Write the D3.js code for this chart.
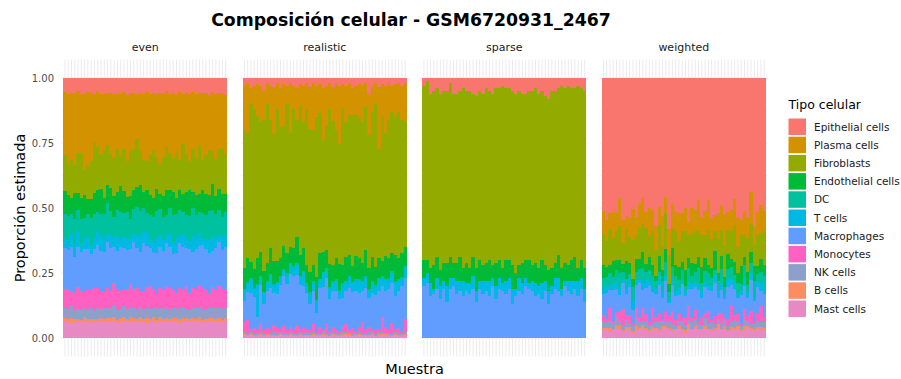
<!DOCTYPE html>
<html>
<head>
<meta charset="utf-8">
<script src="https://cdn.jsdelivr.net/npm/d3@7"></script>
<style>
  html, body { margin: 0; padding: 0; background: #fff; }
  svg { display: block; }
</style>
</head>
<body>
<script>
// Cell types in legend order (top of each stacked bar first)
const cellTypes = ["Epithelial cells", "Plasma cells", "Fibroblasts", "Endothelial cells", "DC",
  "T cells", "Macrophages", "Monocytes", "NK cells", "B cells", "Mast cells"];
const cellColors = ["#F8766D", "#D39200", "#93AA00", "#00BA38", "#00C19F",
  "#00B9E3", "#619CFF", "#FF61C3", "#8DA0CB", "#FC8D62", "#E78AC3"];
const scenarios = ["even", "realistic", "sparse", "weighted"];
const yTicks = [0, 0.25, 0.5, 0.75, 1];
const yTickLabels = ["0.00", "0.25", "0.50", "0.75", "1.00"];

// Estimated proportions (%) per sample; one row per cell type, same order as cellTypes.
// An empty row means the cell type is absent in that scenario.
const evenData = [
  [5.5,6,5.8,6.2,5.4,6,6.5,5.6,5.9,6.1, 5.3,6.4,5.8,6,5.5,6.3,5.7,6.1,5.4,6.6, 5.9,5.6,6.2,5.8,6,5.5,6.3,5.7,6.4,5.9, 6,5.2,6.1,5.8,6.5,5.6,6,5.9,6.3,5.4, 6.2,5.7,6,5.8,6.4,5.5,6.1,5.9,6.2,6.6],
  [24,27,26,28,25,23,30,29,26,19, 22,24,21,20,23,25,22,24,21,26, 23,20,18,22,25,27,24,21,26,28, 24,22,23,25,21,27,19,24,26,22, 25,20,27,24,21,23,25,22,21,22],
  [14,12,15,11,16,17,10,13,15,20, 17,14,18,16,13,15,17,12,16,14, 18,15,19,13,12,11,16,18,13,12, 15,17,14,13,18,12,19,15,11,17, 14,18,12,15,17,13,14,16,18,15],
  [9,8,6,10,7,8,9,6,7,8, 9,10,6,7,9,8,7,10,8,6, 9,7,8,10,6,9,8,7,9,6, 8,10,7,9,6,8,7,9,10,6, 8,7,9,8,6,10,7,8,9,7],
  [9,10,8,11,9,10,8,9,11,10, 8,9,10,12,9,8,10,11,9,10, 8,9,11,10,9,8,10,9,11,10, 9,8,10,11,9,10,8,9,10,11, 9,8,10,9,11,10,9,10,8,9],
  [4,3,5,4,6,3,4,5,3,4, 5,6,4,3,5,4,6,3,4,5, 4,3,5,6,4,5,3,4,6,5, 4,3,5,4,6,3,5,4,3,6, 4,5,3,4,5,6,4,3,5,4],
  [16,15,17,14,16,15,17,16,14,15, 17,16,15,18,16,14,15,17,16,15, 14,17,16,15,18,16,15,14,17,16, 15,17,16,14,15,18,16,15,17,14, 16,15,17,16,15,14,16,17,15,16],
  [7,8,6,7,9,7,6,8,7,9, 8,7,6,8,7,9,8,7,6,8, 9,7,8,6,7,8,9,7,6,8, 7,9,8,7,6,8,7,9,6,8, 7,8,9,7,6,8,7,9,8,7],
  [4,3.5,4.5,3,4,3.8,4.2,3.5,4,3.2, 4.4,3.6,4,3.8,3.4,4.2,3.9,3.5,4.1,3.7, 4.3,3.6,4,3.8,3.5,4.2,3.9,3.4,4.4,3.7, 4,3.6,4.1,3.8,3.5,4.3,3.9,3.6,4,3.7, 4.2,3.5,4,3.8,3.6,4.1,3.9,3.7,4,3.8],
  [1.5,1,1.8,1.2,1.4,1,1.6,1.3,1.1,1.5, 1.2,1.7,1,1.4,1.3,1.6,1.1,1.5,1.2,1.4, 1.8,1.1,1.3,1.5,1,1.6,1.2,1.4,1.3,1.7, 1.1,1.5,1.2,1.4,1,1.6,1.3,1.5,1.1,1.4, 1.2,1.7,1,1.5,1.3,1.4,1.2,1.6,1.1,1.4],
  [6.2,6.5,6,6.4,6.3,6.1,6.6,6.2,6.4,6, 6.3,6.5,6.1,6.4,6.2,6.6,6,6.3,6.5,6.2, 6.4,6.1,6.3,6.5,6.2,6,6.4,6.3,6.1,6.5, 6.2,6.4,6,6.3,6.6,6.1,6.4,6.2,6.3,6.5, 6.1,6.4,6.2,6,6.3,6.5,6.2,6.4,6.1,6.3]
];

const realisticData = [
  [3,2,4,3,2.5,3,5,2,3,3.5, 2,4,2.5,3,2,3,4,2.5,3,2, 3.5,2,3,2.5,4,3,2,3.5,2,3, 2.5,3,2,4,3,2.5,3,2,6,3, 2,3.5,2.5,3,2,3,2.5,2,3,2],
  [17,19,6,9,12,14,11,8,13,18, 10,15,16,7,19,9,12,8,14,10, 16,18,12,11,20,15,10,13,18,22, 9,14,12,10,11,13,14,9,16,10, 8,24,12,18,14,10,12,11,13,15],
  [53,48,61,61,55,50,58,61,49,49, 58,50,46,57,44,53,45,58,48,60, 55,52,61,54,43,48,59,56,49,46, 61,52,54,58,54,54,54,55,51,56, 62,42,56,47,53,54,54,56,51,48],
  [8,9,6,7,10,9,8,7,10,9, 8,7,9,8,6,7,10,8,9,7, 8,6,9,10,8,7,9,6,8,10, 7,9,8,6,9,8,7,10,8,9, 7,8,6,9,8,7,10,8,9,7],
  [0.6,0.8,0.7,0.5,0.9,0.7,0.6,0.8,0.7,0.5, 0.8,0.6,0.7,0.9,0.5,0.7,0.8,0.6,0.7,0.9, 0.5,0.7,0.8,0.6,0.7,0.9,0.6,0.8,0.7,0.5, 0.7,0.9,0.6,0.8,0.7,0.5,0.8,0.6,0.7,0.9, 0.6,0.8,0.7,0.5,0.9,0.7,0.6,0.8,0.7,0.6],
  [4,3,5,3,12,3,4,3,5,3, 4,3,2,3,4,3,4,3,5,3, 4,3,4,3,5,3,4,3,4,3, 5,3,4,3,4,5,3,4,3,4, 3,4,3,4,3,4,5,4,3,4],
  [8,11,14,12,5,15,10,14,16,12, 13,17,19,18,20,21,19,17,16,14, 10,13,7,15,16,17,12,14,15,12, 11,13,16,14,15,13,12,16,11,14, 13,15,12,14,16,15,13,14,17,16],
  [4,5,1,2,1,3,1,2,1,3, 2,1,3,1,2,1,3,1,2,1, 1,3,1,2,1,4,1,2,1,1, 2,3,1,2,1,2,4,1,2,1, 2,1,6,2,1,4,1,2,1,5],
  [0.8,0.6,1,0.7,0.9,0.8,1,0.6,0.7,0.9, 0.7,0.9,0.8,0.6,1,0.7,0.8,0.9,0.6,1, 0.9,0.7,0.6,0.8,1,0.7,0.9,0.8,0.6,0.7, 1,0.8,0.7,0.9,0.6,0.8,1,0.7,0.9,0.8, 0.6,0.9,0.8,0.7,1,0.6,0.8,0.9,0.7,0.8],
  [0.4,0.3,0.5,0.4,0.3,0.5,0.4,0.6,0.3,0.4, 0.5,0.4,0.3,0.6,0.4,0.3,0.5,0.4,0.6,0.3, 0.4,0.5,0.3,0.4,0.6,0.4,0.3,0.5,0.4,0.3, 0.6,0.4,0.5,0.3,0.4,0.6,0.3,0.4,0.5,0.4, 0.3,0.5,0.4,0.6,0.3,0.4,0.5,0.3,0.4,0.5],
  [1,0.8,1,0.6,0.9,1,0.7,0.8,1,0.9, 0.6,1,0.8,0.7,1,0.9,0.8,1,0.6,0.9, 0.8,1,0.7,0.9,1,0.8,0.6,1,0.9,0.7, 0.8,1,0.9,0.6,0.8,1,0.7,0.9,0.8,1, 0.6,0.9,1,0.8,0.7,0.9,1,0.8,0.6,0.9]
];

const sparseData = [
  [3,1,6,5,4,6,5,5,2,6, 6,5,4,5,5,6,7,5,6,4, 5,6,4,4,3,4,4,5,6,5, 6,6,5,5,4,6,5,7,8,5, 5,4,3,4,3,4,4,3,4,5],
  [],
  [67,69,67,67,65,68,66,66,67,65, 65,64,69,66,68,63,66,65,66,67, 65,66,67,66,70,66,66,67,69,67, 65,64,65,67,67,67,65,65,66,68, 66,64,70,67,69,66,65,70,66,68],
  [7,5,6,9,8,6,7,9,8,6, 7,9,5,8,6,7,9,8,6,7, 8,5,9,7,6,8,7,9,6,5, 8,7,9,6,8,7,9,6,8,7, 6,9,8,7,6,8,9,5,7,8],
  [],
  [3,4,5,2,4,5,3,6,4,3, 5,4,6,3,4,5,4,3,5,4, 6,3,5,4,3,5,4,6,3,5, 4,3,2,4,5,3,6,4,5,3, 4,5,3,2,4,5,3,6,4,5],
  [20,21,16,17,19,15,19,14,19,20, 17,18,16,18,17,19,14,19,17,18, 16,20,15,19,18,17,19,13,16,18, 17,20,19,18,16,17,15,18,13,17, 19,18,16,20,18,17,19,16,19,14],
  [],
  [],
  [],
  []
];

const weightedData = [
  [51,54.5,52,51.4,52,46,54.5,53.2,53.3,50.4, 53.5,48.5,46,51.7,49.9,50.8,57,49.5,53,45.9, 58.2,48.5,51,51.8,51.9,50,55.2,50,50.7,47, 52.9,51.3,47,54,52.7,52,49.4,52.5,51.5,50.8, 46.7,54,54.4,51,53.5,44,57.2,51.4,48.8,51],
  [9,8,6,10,7,11,9,5,8,12, 7,9,10,6,11,8,9,7,12,6, 10,9,8,11,7,9,5,10,8,12, 7,9,11,8,6,10,9,12,7,8, 10,11,6,9,8,12,7,9,11,8],
  [12,10,14,9,11,13,8,12,10,15, 9,12,11,14,8,13,10,12,9,14, 11,8,13,10,12,15,9,11,13,10, 12,9,14,11,8,13,10,12,9,11, 14,10,12,9,13,11,8,12,10,13],
  [5,4,3,6,4,5,3,7,4,3, 5,4,6,3,5,4,2,6,4,5, 3,7,4,5,3,6,4,5,3,4, 6,5,3,4,7,3,5,4,6,3, 5,4,7,3,5,4,6,3,5,4],
  [4,3,5,3,4,6,3,4,2,5, 3,4,6,3,4,5,3,2,4,5, 3,4,6,3,4,2,5,3,4,6, 3,4,5,3,2,4,6,3,4,5, 3,4,2,5,3,4,6,3,4,5],
  [2,3,1.5,2,3,2.5,1.5,2,3,4, 2,1.5,2.5,3,2,1.5,2,3,2.5,2, 1.5,3,2,2.5,1.5,2,3,2,1.5,2.5, 3,2,1.5,2,3,2.5,2,1.5,3,2, 2.5,1.5,2,3,2,2.5,1.5,2,3,2],
  [8,10,7,12,9,6,10,8,11,5, 9,13,7,10,14,6,9,11,8,12, 5,10,9,7,13,8,6,11,9,12, 7,10,8,11,13,6,9,7,12,8, 10,6,11,9,7,12,8,10,6,9],
  [3,2,5,1,2,4,6,2,3,1, 4,2,5,3,1,6,2,3,1,4, 2,5,2,3,1,3,6,2,4,1, 3,2,5,1,3,2,4,1,3,6, 2,3,1,4,2,5,1,3,6,2],
  [2,1.5,2.5,2,3,1.5,2,2.5,1.5,2, 3,2,1.5,2.5,2,1.5,2,3,2,1.5, 2.5,2,1.5,2,3,2,1.5,2.5,2,2, 1.5,3,2,2.5,1.5,2,2,2.5,1.5,2, 3,2,1.5,2.5,2,1.5,2,2.5,2,2],
  [1,0.5,1.5,0.6,1,2,0.5,0.8,1.2,0.6, 1.5,0.5,1,0.8,0.6,1.2,0.5,1,1.5,0.6, 0.8,1,0.5,1.2,0.6,1,1.8,0.5,0.8,1, 0.6,1.2,0.5,1,0.8,1.5,0.6,1,0.5,1.2, 0.8,1,0.6,1.5,0.5,1,0.8,0.6,1.2,1],
  [3,3.5,2.5,3,4,3,2.5,3.5,3,2, 3,3.5,4,3,2.5,3,3.5,2.5,3,4, 3,2.5,3,3.5,3,2,3.5,3,4,2.5, 3,3.5,3,2.5,3,4,3,3.5,2.5,3, 3,3.5,2.5,3,4,3,2.5,3.5,3,3]
];

const scenarioData = { even: evenData, realistic: realisticData, sparse: sparseData, weighted: weightedData };
const sampleIds = d3.range(1, 51).map(i => "S" + i);

// ---- layout ----
const W = 901, H = 379;
const font = "'DejaVu Sans', 'Noto Sans', sans-serif";
const panelTop = 59.5, panelBottom = 356.5;

const svg = d3.select("body").append("svg")
  .attr("width", W).attr("height", H)
  .style("font-family", font);

const y = d3.scaleLinear().domain([0, 1]).range([338, 78]);

const fx = d3.scaleBand().domain(scenarios)
  .range([61.3, 767.8]).paddingInner(11.5 / 179.5).paddingOuter(0);

const x = d3.scaleBand().domain(sampleIds)
  .range([0, fx.bandwidth()]).paddingInner(0).paddingOuter(0.6);

// Stack order: last legend entry at the bottom
const stackKeys = d3.range(cellTypes.length).reverse();
const stack = d3.stack()
  .keys(stackKeys)
  .value((d, k) => d[k])
  .offset(d3.stackOffsetExpand);

scenarios.forEach(name => {
  const data = scenarioData[name];
  const rows = sampleIds.map((s, j) => {
    const r = { sample: s };
    data.forEach((vals, k) => { r[k] = vals.length ? vals[j] : 0; });
    return r;
  });
  const series = stack(rows);

  const g = svg.append("g").attr("transform", `translate(${fx(name)},0)`);

  // grid
  const grid = g.append("g");
  grid.selectAll("line.v").data(sampleIds).join("line")
    .attr("x1", d => x(d) + x.bandwidth() / 2)
    .attr("x2", d => x(d) + x.bandwidth() / 2)
    .attr("y1", panelTop).attr("y2", panelBottom)
    .attr("stroke", "#EBEBEB").attr("stroke-width", 1);
  grid.selectAll("line.h").data([0, 0.125, 0.25, 0.375, 0.5, 0.625, 0.75, 0.875, 1]).join("line")
    .attr("x1", 0).attr("x2", fx.bandwidth())
    .attr("y1", d => y(d)).attr("y2", d => y(d))
    .attr("stroke", "#EBEBEB").attr("stroke-width", d => (d * 4) % 1 === 0 ? 1 : 0.5);

  // stacked bars
  g.append("g").attr("shape-rendering", "crispEdges")
    .selectAll("g").data(series).join("g")
    .attr("fill", d => cellColors[d.key])
    .selectAll("rect").data(d => d).join("rect")
    .attr("x", d => x(d.data.sample))
    .attr("width", x.bandwidth())
    .attr("y", d => y(d[1]))
    .attr("height", d => Math.max(0, y(d[0]) - y(d[1])));

  // strip label
  svg.append("text")
    .attr("x", fx(name) + fx.bandwidth() / 2).attr("y", 51)
    .attr("text-anchor", "middle")
    .attr("font-size", 11).attr("fill", "#1A1A1A")
    .text(name);
});

// y axis labels
svg.append("g").selectAll("text").data(yTicks).join("text")
  .attr("x", 54).attr("y", d => y(d))
  .attr("dy", "0.36em")
  .attr("text-anchor", "end")
  .attr("font-size", 10).attr("fill", "#4D4D4D")
  .text((d, i) => yTickLabels[i]);

// axis titles
svg.append("text")
  .attr("transform", `translate(25,${(panelTop + panelBottom) / 2}) rotate(-90)`)
  .attr("text-anchor", "middle")
  .attr("font-size", 14.5).attr("fill", "#000")
  .text("Proporción estimada");

svg.append("text")
  .attr("x", 414.5).attr("y", 374)
  .attr("text-anchor", "middle")
  .attr("font-size", 14.5).attr("fill", "#000")
  .text("Muestra");

// title
svg.append("text")
  .attr("x", 411).attr("y", 26)
  .attr("text-anchor", "middle")
  .attr("font-size", 17.3).attr("font-weight", "bold").attr("fill", "#000")
  .text("Composición celular - GSM6720931_2467");

// legend
const legend = svg.append("g").attr("transform", "translate(788.5,0)");
legend.append("text")
  .attr("x", 0).attr("y", 108.5)
  .attr("font-size", 12.5).attr("fill", "#000")
  .text("Tipo celular");
const keyStep = 18.2, keyTop = 118.5, keySize = 16.5;
const items = legend.selectAll("g.item").data(cellTypes).join("g")
  .attr("transform", (d, i) => `translate(0,${keyTop + i * keyStep})`);
items.append("rect")
  .attr("width", 17.5).attr("height", keySize)
  .attr("fill", (d, i) => cellColors[i]);
items.append("text")
  .attr("x", 25.5).attr("y", keySize / 2).attr("dy", "0.36em")
  .attr("font-size", 10.5).attr("fill", "#1A1A1A")
  .text(d => d);
</script>
</body>
</html>
